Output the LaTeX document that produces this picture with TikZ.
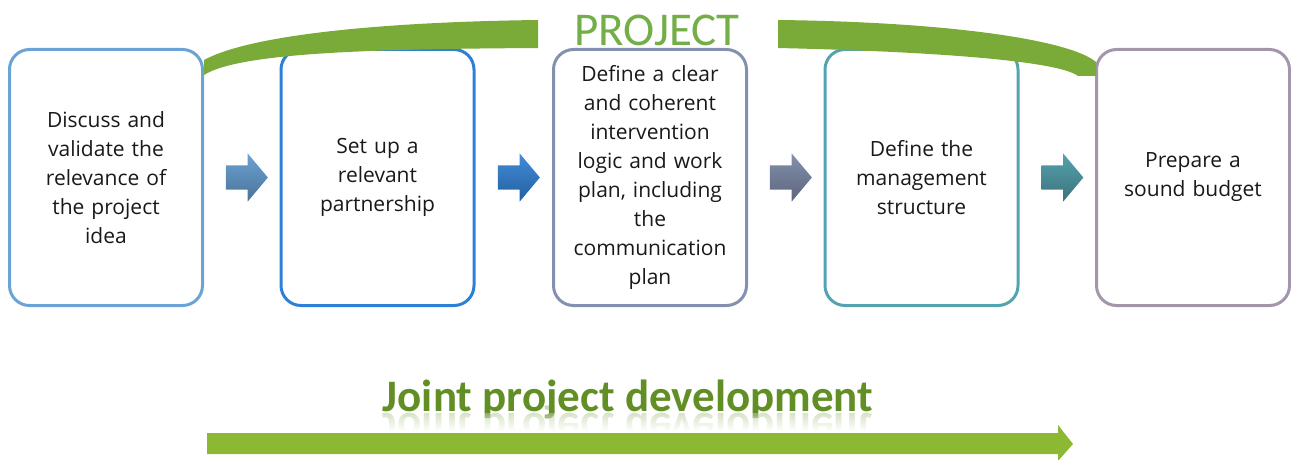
\documentclass[tikz,border=0pt]{standalone}
\usepackage{fontspec}
\setmainfont{Open Sans}
\newfontfamily\carl{Carlito}
\usetikzlibrary{shapes.arrows,calc}
\definecolor{c1}{HTML}{6BA3D6}
\definecolor{c2}{HTML}{2E7FD6}
\definecolor{c3}{HTML}{8391AE}
\definecolor{c4}{HTML}{55A3AF}
\definecolor{c5}{HTML}{A396AB}
\definecolor{band}{HTML}{7AAB38}
\definecolor{ptext}{HTML}{74AE46}
\definecolor{jgreen}{HTML}{628F25}
\definecolor{barrow}{HTML}{8CB833}
\tikzset{
  stepbox/.style={draw, line width=3pt, rounded corners=20pt, minimum width=193pt, minimum height=256pt,
    align=center, text width=180pt, inner sep=0pt, font=\fontsize{21}{29}\selectfont, text=black!90},
  blockarrow/.style={single arrow, minimum height=42pt, minimum width=48pt, inner sep=0pt,
    single arrow head extend=12pt, single arrow tip angle=100, draw=none},
  jtext/.style={font=\carl\fontsize{45}{47}\selectfont\bfseries, text=jgreen, anchor=base},
}
\newcommand{\abody}{\rule{0pt}{24pt}}
\begin{document}
\begin{tikzpicture}[x=1pt,y=-1pt]
\useasboundingbox (0,0) rectangle (1291,460);
% boxes
\node[stepbox, draw=c1] (b1) at (106,177.5) {Discuss and\\validate the\\relevance of\\the project\\idea};
\node[stepbox, draw=c2] (b2) at (377.5,177.5) {Set up a\\relevant\\partnership};
\node[stepbox, draw=c3] (b3) at (650,177.5) {Define a clear\\and coherent\\intervention\\logic and work\\plan, including\\the\\communication\\plan};
\node[stepbox, draw=c4] (b4) at (921.5,177.5) {Define the\\management\\structure};
\node[stepbox, draw=c5] (b5) at (1193,177.5) {Prepare a\\sound budget};
% block arrows
\node[blockarrow, top color=c1, bottom color=c1!70!black] (a1) at ($(b1.east)!0.5!(b2.west)$) {\abody};
\node[blockarrow, top color=c2!90!white, bottom color=c2!75!black] (a2) at ($(b2.east)!0.5!(b3.west)$) {\abody};
\node[blockarrow, top color=c3, bottom color=c3!70!black] (a3) at ($(b3.east)!0.5!(b4.west)$) {\abody};
\node[blockarrow, top color=c4, bottom color=c4!70!black] (a4) at ($(b4.east)!0.5!(b5.west)$) {\abody};
% project band
\node[font=\carl\fontsize{47}{47}\selectfont, text=ptext, anchor=base] (proj) at (657,46) {PROJECT};
\fill[band] (204,75) .. controls (240,52) and (380,49) .. (538,48) -- (538,20)
  .. controls (380,22) and (250,35) .. (204,60) -- cycle;
\fill[band] (778,20) .. controls (950,22) and (1070,40) .. (1096,62) -- (1096,76) -- (1078,76)
  .. controls (1060,62) and (950,52) .. (778,48) -- cycle;
% joint project development
\node[jtext] (jt) at (628,411) {Joint project development};
\node[jtext, yscale=-1, opacity=0.35] (jr) at (628,413) {Joint project development};
\foreach \i in {0,...,11} {
  \fill[white, opacity=0.3+0.06*\i] (370,413+1.5*\i) rectangle (890,414.6+1.5*\i);
}
\fill[white] (370,431) rectangle (890,440);
% bottom arrow
\coordinate (bs) at (207,444);
\coordinate (be) at (1073,444);
\fill[barrow] (bs) ++(0,-11) -- ++(851,0) -- ++(0,-8) -- (be) -- ++(-15,17) -- ++(0,-7) -- ++(-851,0) -- cycle;
\end{tikzpicture}
\end{document}
